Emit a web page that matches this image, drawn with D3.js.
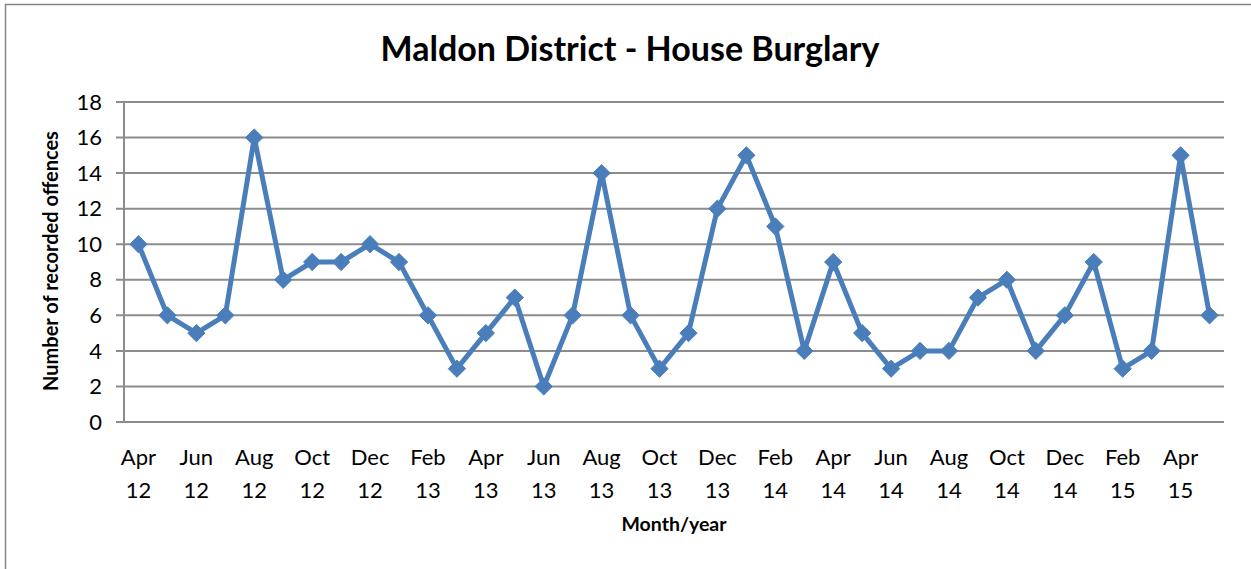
<!DOCTYPE html>
<html>
<head>
<meta charset="utf-8">
<script src="https://cdn.jsdelivr.net/npm/d3@7"></script>
<style>
  body { margin: 0; background: #fff; }
  text { font-family: Lato, "Open Sans", sans-serif; fill: #000; }
</style>
</head>
<body>
<div id="chart"></div>
<script>
// months Apr 2012 .. May 2015
var months = ["Apr 12","May 12","Jun 12","Jul 12","Aug 12","Sep 12","Oct 12","Nov 12","Dec 12","Jan 13","Feb 13","Mar 13",
              "Apr 13","May 13","Jun 13","Jul 13","Aug 13","Sep 13","Oct 13","Nov 13","Dec 13","Jan 14","Feb 14","Mar 14",
              "Apr 14","May 14","Jun 14","Jul 14","Aug 14","Sep 14","Oct 14","Nov 14","Dec 14","Jan 15","Feb 15","Mar 15",
              "Apr 15","May 15"];
var offences = [10,6,5,6,16,8,9,9,10,9,6,3,
                5,7,2,6,14,6,3,5,12,15,11,4,
                9,5,3,4,4,7,8,4,6,9,3,4,
                15,6];
var yTicks = [0,2,4,6,8,10,12,14,16,18];

var width = 1251, height = 569;
var margin = {top: 102, right: 27, bottom: 147, left: 124};

var svg = d3.select("#chart").append("svg")
    .attr("width", width)
    .attr("height", height);

// chart border
svg.append("rect")
    .attr("x", 5.5).attr("y", 4.5)
    .attr("width", 1260).attr("height", 600)
    .attr("fill", "none")
    .attr("stroke", "#868686")
    .attr("stroke-width", 1.5);

var x = d3.scaleBand()
    .domain(months)
    .range([margin.left, width - margin.right]);

var y = d3.scaleLinear()
    .domain([0, 18])
    .range([height - margin.bottom, margin.top]);

// gridlines
svg.append("g").selectAll("line")
    .data(yTicks)
    .enter().append("line")
    .attr("x1", margin.left - 8)
    .attr("x2", width - margin.right)
    .attr("y1", function (d) { return y(d); })
    .attr("y2", function (d) { return y(d); })
    .attr("stroke", "#8c8c8c")
    .attr("stroke-width", 2);

// y axis line
svg.append("line")
    .attr("x1", margin.left).attr("x2", margin.left)
    .attr("y1", y(18)).attr("y2", y(0))
    .attr("stroke", "#8c8c8c")
    .attr("stroke-width", 2);

// y tick labels
svg.append("g").selectAll("text")
    .data(yTicks)
    .enter().append("text")
    .attr("x", margin.left - 22)
    .attr("y", function (d) { return y(d); })
    .attr("dy", "0.35em")
    .attr("text-anchor", "end")
    .style("font-size", "22px")
    .text(function (d) { return d; });

// x tick labels, every second month
var xLabels = svg.append("g").selectAll("text")
    .data(months.filter(function (d, i) { return i % 2 === 0; }))
    .enter().append("text")
    .attr("text-anchor", "middle")
    .style("font-size", "22px");
xLabels.append("tspan")
    .attr("x", function (d) { return x(d) + x.bandwidth() / 2; })
    .attr("y", 465)
    .text(function (d) { return d.split(" ")[0]; });
xLabels.append("tspan")
    .attr("x", function (d) { return x(d) + x.bandwidth() / 2; })
    .attr("y", 498)
    .text(function (d) { return d.split(" ")[1]; });

// line
var line = d3.line()
    .x(function (d, i) { return x(months[i]) + x.bandwidth() / 2; })
    .y(function (d) { return y(d); });

svg.append("path")
    .datum(offences)
    .attr("d", line)
    .attr("fill", "none")
    .attr("stroke", "#4a7ebb")
    .attr("stroke-width", 5)
    .attr("stroke-linejoin", "round");

// diamond markers
svg.append("g").selectAll("path")
    .data(offences)
    .enter().append("path")
    .attr("d", d3.symbol().type(d3.symbolDiamond2).size(190))
    .attr("transform", function (d, i) {
        return "translate(" + (x(months[i]) + x.bandwidth() / 2) + "," + y(d) + ")";
    })
    .attr("fill", "#4a7ebb")
    .attr("stroke", "#4a7ebb")
    .attr("stroke-width", 1);

// title
svg.append("text")
    .attr("x", 630)
    .attr("y", 61)
    .attr("text-anchor", "middle")
    .style("font-size", "34px")
    .style("font-weight", "bold")
    .text("Maldon District - House Burglary");

// axis titles
svg.append("text")
    .attr("transform", "translate(58," + 261 + ") rotate(-90)")
    .attr("text-anchor", "middle")
    .style("font-size", "20px")
    .style("font-weight", "bold")
    .text("Number of recorded offences");

svg.append("text")
    .attr("x", 674)
    .attr("y", 531)
    .attr("text-anchor", "middle")
    .style("font-size", "19.5px")
    .style("font-weight", "bold")
    .text("Month/year");
</script>
</body>
</html>
